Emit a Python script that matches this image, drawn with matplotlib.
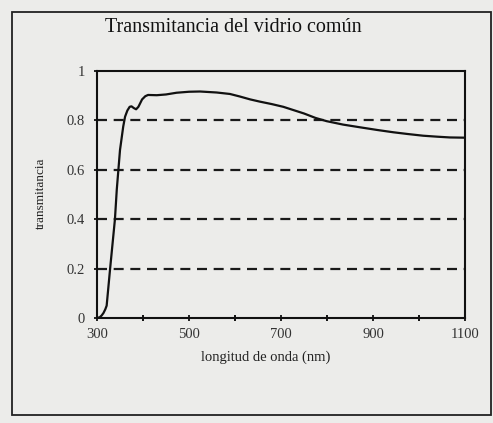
import matplotlib
matplotlib.use("Agg")
import matplotlib.pyplot as plt
from matplotlib.patches import Rectangle

plt.rcParams['font.family'] = ['Liberation Serif', 'DejaVu Serif']

wavelength = [300, 306, 310, 314, 318, 321, 328, 339, 343, 350, 357, 361, 366, 371,
              375, 380, 385, 390, 398, 405, 411, 430, 450, 473, 500, 524, 560, 589,
              610, 633, 654, 680, 705, 730, 750, 775, 799, 835, 872, 910, 944, 975,
              1009, 1040, 1067, 1100]
transmittance = [0.0, 0.003, 0.01, 0.02, 0.035, 0.05, 0.19, 0.40, 0.52, 0.68, 0.775,
                 0.815, 0.84, 0.855, 0.857, 0.85, 0.845, 0.855, 0.885, 0.898, 0.903,
                 0.902, 0.905, 0.912, 0.916, 0.917, 0.913, 0.907, 0.897, 0.885, 0.876,
                 0.866, 0.855, 0.84, 0.828, 0.81, 0.797, 0.783, 0.772, 0.761, 0.752,
                 0.745, 0.738, 0.734, 0.731, 0.73]
grid_levels = [0.2, 0.4, 0.6, 0.8]
x_major = [300, 500, 700, 900, 1100]
x_minor = [400, 600, 800, 1000]
y_ticks = [0, 0.2, 0.4, 0.6, 0.8, 1]
y_labels = ['0', '0.2', '0.4', '0.6', '0.8', '1']

bg = '#ececea'
fig = plt.figure(figsize=(4.93, 4.23), dpi=100, facecolor=bg)
W, H = 493, 423

# outer frame
fig.patches.append(Rectangle((12 / W, 1 - 415 / H), (491 - 12) / W, (415 - 12) / H,
                             transform=fig.transFigure, fill=False,
                             edgecolor='#222222', linewidth=1.3))

ax = fig.add_axes([97 / W, 1 - 318 / H, (465 - 97) / W, (318 - 71) / H])
ax.set_facecolor(bg)

for lvl in grid_levels:
    ax.plot([300, 1100], [lvl, lvl], color='#1a1a1a', linewidth=1.6,
            linestyle=(0, (4.5, 3)))

ax.plot(wavelength, transmittance, color='#111111', linewidth=1.6)

ax.set_xlim(300, 1100)
ax.set_ylim(0, 1)
ax.set_xticks(x_major)
ax.set_xticks(x_minor, minor=True)
ax.set_yticks(y_ticks)
ax.set_yticklabels(y_labels)
for s in ax.spines.values():
    s.set_linewidth(1.5)
    s.set_color('#111111')
ax.tick_params(axis='both', which='major', direction='inout', length=5, width=1.3,
               labelsize=10.5, colors='#111111', labelcolor='#333333')
ax.tick_params(axis='x', which='minor', direction='inout', length=4, width=1.3)
ax.tick_params(axis='x', pad=5)
ax.tick_params(axis='y', pad=6)

fig.text(233 / W, 1 - 28 / H, 'Transmitancia del vidrio común', ha='center',
         va='center', fontsize=14.5, color='#111111')
fig.text(266 / W, 1 - 357 / H, 'longitud de onda (nm)', ha='center', va='center',
         fontsize=10.5, color='#222222')
fig.text(41 / W, 1 - 193 / H, 'transmitancia', ha='center', va='center',
         rotation=90, fontsize=9.5, color='#222222')

fig.savefig('out.png', dpi=100, facecolor=bg)
